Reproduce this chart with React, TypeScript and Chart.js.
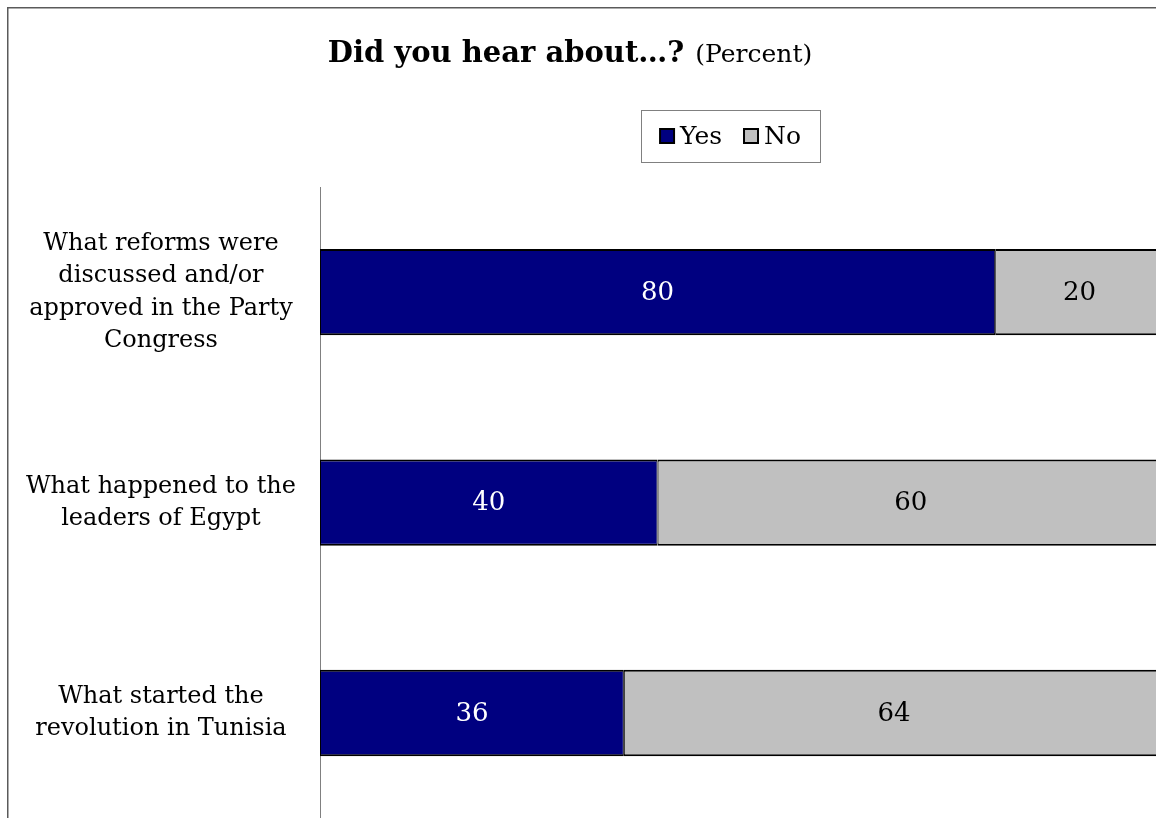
import React, { useEffect, useRef } from "react";
import { Chart, registerables } from "chart.js";

Chart.register(...registerables);

const categories: string[][] = [
  ["What reforms were", "discussed and/or", "approved in the Party", "Congress"],
  ["What happened to the", "leaders of Egypt"],
  ["What started the", "revolution in Tunisia"],
];
const yesValues = [80, 40, 36];
const noValues = [20, 60, 64];
const seriesNames = ["Yes", "No"];
const seriesColors = ["#000080", "#C0C0C0"];
const labelColors = ["#FFFFFF", "#000000"];
const titleBold = "Did you hear about…?";
const titleNormal = "(Percent)";

const FONT = '"DejaVu Serif", serif';

const decorPlugin = {
  id: "decor",
  beforeDraw(chart: any) {
    const ctx = chart.ctx;
    ctx.save();
    ctx.fillStyle = "#FFFFFF";
    ctx.fillRect(0, 0, chart.width, chart.height);
    ctx.strokeStyle = "#5a5a5a";
    ctx.lineWidth = 1.5;
    ctx.strokeRect(0.75, 0.75, chart.width + 10, chart.height + 10);

    // title
    ctx.fillStyle = "#000";
    ctx.textBaseline = "alphabetic";
    ctx.font = `bold 29px ${FONT}`;
    const wb = ctx.measureText(titleBold).width;
    ctx.font = `25px ${FONT}`;
    const wn = ctx.measureText(titleNormal).width;
    const gap = 11;
    const cx = 563;
    const x = cx - (wb + gap + wn) / 2;
    ctx.textAlign = "left";
    ctx.font = `bold 29px ${FONT}`;
    ctx.fillText(titleBold, x, 55);
    ctx.font = `25px ${FONT}`;
    ctx.fillText(titleNormal, x + wb + gap, 55);

    // legend
    const bx = 634, by = 103, bw = 179, bh = 52;
    ctx.strokeStyle = "#808080";
    ctx.lineWidth = 1;
    ctx.strokeRect(bx + 0.5, by + 0.5, bw, bh);
    ctx.font = `25px ${FONT}`;
    const sq = 14, g1 = 6, g2 = 22;
    const w0 = ctx.measureText(seriesNames[0]).width;
    const w1 = ctx.measureText(seriesNames[1]).width;
    const total = sq + g1 + w0 + g2 + sq + g1 + w1;
    let lx = bx + bw / 2 - total / 2;
    const ly = by + bh / 2;
    for (let i = 0; i < 2; i++) {
      ctx.fillStyle = seriesColors[i];
      ctx.fillRect(lx, ly - sq / 2, sq, sq);
      ctx.strokeStyle = "#000";
      ctx.lineWidth = 2;
      ctx.strokeRect(lx, ly - sq / 2, sq, sq);
      ctx.fillStyle = "#000";
      ctx.textBaseline = "middle";
      ctx.textAlign = "left";
      ctx.fillText(seriesNames[i], lx + sq + g1, ly + 1);
      lx += sq + g1 + (i === 0 ? w0 : w1) + g2;
    }
    ctx.restore();
  },
  afterDatasetsDraw(chart: any) {
    const ctx = chart.ctx;
    ctx.save();
    ctx.font = `26px ${FONT}`;
    ctx.textAlign = "center";
    ctx.textBaseline = "middle";
    chart.data.datasets.forEach((ds: any, di: number) => {
      const meta = chart.getDatasetMeta(di);
      meta.data.forEach((el: any, i: number) => {
        const props = el.getProps(["x", "y", "base"], true);
        ctx.fillStyle = labelColors[di];
        ctx.fillText(String(ds.data[i]), (props.x + props.base) / 2, props.y + 1);
      });
    });
    ctx.restore();
  },
};

export default function App() {
  const ref = useRef<HTMLCanvasElement | null>(null);
  useEffect(() => {
    if (!ref.current) return;
    const chart = new Chart(ref.current, {
      type: "bar",
      data: {
        labels: categories,
        datasets: [
          {
            label: seriesNames[0],
            data: yesValues,
            backgroundColor: seriesColors[0],
            borderColor: "#000",
            borderWidth: { top: 2, bottom: 2, left: 1, right: 1 },
            borderSkipped: false,
            categoryPercentage: 1,
            barPercentage: 0.41,
          },
          {
            label: seriesNames[1],
            data: noValues,
            backgroundColor: seriesColors[1],
            borderColor: "#000",
            borderWidth: { top: 2, bottom: 2, left: 1, right: 1 },
            borderSkipped: false,
            categoryPercentage: 1,
            barPercentage: 0.41,
          },
        ],
      },
      options: {
        indexAxis: "y",
        responsive: false,
        animation: false,
        devicePixelRatio: 1,
        layout: { padding: { left: 0, top: 180, right: 43, bottom: 86 } },
        plugins: {
          legend: { display: false },
          title: { display: false },
          tooltip: { enabled: false },
        },
        scales: {
          x: { stacked: true, min: 0, max: 100, display: false },
          y: {
            stacked: true,
            grid: { display: false, drawTicks: false },
            border: { display: true, color: "#808080", width: 1 },
            ticks: {
              color: "#000",
              font: { family: FONT, size: 24, lineHeight: 1.35 },
              crossAlign: "center",
              padding: 24,
            },
            afterFit: (scale: any) => {
              scale.width = 313;
            },
          },
        },
      },
      plugins: [decorPlugin],
    });
    return () => chart.destroy();
  }, []);
  return (
    <div
      style={{
        position: "fixed",
        left: 0,
        top: 0,
        width: 1156,
        height: 818,
        overflow: "hidden",
        background: "#fff",
      }}
    >
      <canvas
        ref={ref}
        width={1200}
        height={900}
        style={{ position: "absolute", left: 7, top: 7, width: 1200, height: 900 }}
      />
    </div>
  );
}
